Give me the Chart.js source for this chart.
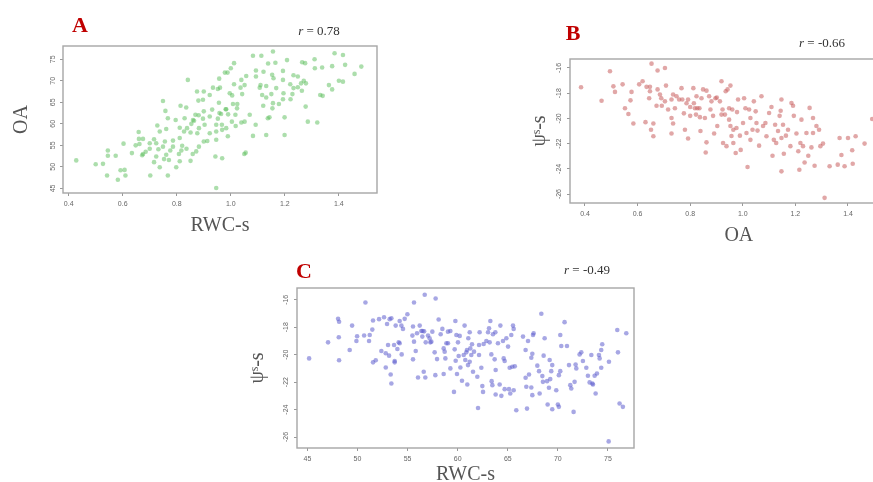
<!DOCTYPE html>
<html>
<head>
<meta charset="utf-8">
<script src="https://cdn.jsdelivr.net/npm/chart.js@4.4.1/dist/chart.umd.min.js"></script>
<style>
  html, body { margin: 0; padding: 0; background: #fff; overflow: hidden; width: 873px; height: 482px; }
  canvas { position: absolute; }
  .tag { position: absolute; font-family: "Liberation Serif", serif; transform: translate(-50%, -50%); white-space: nowrap; }
  .letter { color: #c00000; font-weight: bold; font-size: 22px; }
  .r { color: #333; font-size: 13px; }
</style>
</head>
<body>
<canvas id="chartA" width="380" height="240" style="left:0;top:0"></canvas>
<canvas id="chartB" width="430" height="250" style="left:480px;top:0"></canvas>
<canvas id="chartC" width="400" height="235" style="left:240px;top:255px"></canvas>

<div class="tag letter" style="left:80px;top:25px">A</div>
<div class="tag r" style="left:319px;top:31px"><i>r</i> = 0.78</div>
<div class="tag letter" style="left:573px;top:33px">B</div>
<div class="tag r" style="left:822px;top:43px"><i>r</i> = -0.66</div>
<div class="tag letter" style="left:304px;top:271px">C</div>
<div class="tag r" style="left:587px;top:270px"><i>r</i> = -0.49</div>

<script>
// panel A: RWC-s vs OA
const aRwc = [
  1.156,1.082,1.113,1.384,1.415,1.208,1.31,1.423,1.483,1.264,
  1.275,1.012,1.138,1.165,1.311,1.338,1.375,1.0,1.093,1.121,
  0.978,0.988,1.057,1.093,1.193,1.248,1.232,1.458,0.841,0.957,
  1.039,1.153,1.158,1.193,1.27,1.4,1.415,1.012,1.051,1.11,
  1.131,1.22,1.26,1.278,1.363,0.934,0.952,0.96,1.036,1.107,
  1.168,1.232,1.248,1.263,1.375,0.875,0.9,0.996,1.042,1.116,
  1.15,1.195,1.228,1.331,0.922,1.005,1.131,1.193,1.221,0.88,
  0.897,0.749,0.956,1.008,1.024,1.156,1.178,0.814,0.835,0.931,
  0.983,1.023,1.12,1.154,1.277,0.758,0.958,0.964,0.981,0.9,
  0.99,1.017,1.07,1.137,1.143,1.199,0.922,0.869,0.881,0.952,
  0.767,0.796,0.829,0.86,0.864,0.897,1.004,1.051,1.092,1.285,
  0.728,0.761,0.811,0.838,0.854,0.882,0.903,0.946,0.967,0.983,
  1.018,1.039,0.659,0.737,0.827,0.851,0.876,0.922,0.946,0.968,
  0.989,1.082,1.199,0.66,0.675,0.716,0.756,0.786,0.811,0.9,
  0.913,0.946,0.648,0.7,0.724,0.749,0.786,0.82,0.882,0.7,
  0.732,0.776,0.817,0.836,0.872,0.603,0.662,0.545,0.634,0.675,
  0.685,0.672,0.724,0.761,0.808,0.859,0.428,0.545,0.574,0.5,
  0.527,0.716,0.753,0.771,0.811,0.851,0.943,0.968,1.055,1.05,
  0.737,0.798,0.592,0.607,0.542,0.61,0.702,0.767,0.582,0.946,
  1.131,1.32,1.34
];
const aOa = [
  76.8,75.8,75.8,76.4,76.0,74.8,75.0,73.7,73.3,74.3,
  74.1,74.1,74.0,74.2,72.9,73.1,73.4,72.9,72.4,72.1,
  71.9,71.9,71.1,71.0,72.3,71.0,71.3,71.6,70.2,70.5,
  70.2,71.4,70.6,70.2,70.0,70.0,69.8,69.2,69.0,69.0,
  68.8,69.2,69.4,69.4,69.0,68.4,68.1,68.4,68.4,68.4,
  68.3,68.3,68.5,67.7,68.0,67.5,67.5,67.1,66.9,66.7,
  66.9,67.1,66.9,66.7,66.7,66.6,66.1,65.7,65.7,65.4,
  65.6,65.3,64.9,64.6,64.6,64.8,64.6,64.2,63.8,63.3,
  63.4,63.6,64.2,63.6,64.0,63.0,62.5,62.3,63.4,62.9,
  62.2,62.1,62.1,61.3,61.5,61.5,61.7,62.1,62.0,61.2,
  61.3,60.9,61.3,60.9,60.7,61.2,60.5,60.5,59.8,60.5,
  59.6,58.8,59.1,59.0,60.0,59.0,59.8,59.8,59.8,59.0,
  59.5,60.3,58.1,58.2,58.2,58.0,57.8,57.8,58.2,58.6,
  57.1,57.2,57.4,56.5,56.5,56.4,55.9,56.1,56.7,55.9,
  56.0,56.3,55.0,55.5,55.5,54.7,54.7,54.9,54.7,54.2,
  54.1,53.8,53.8,54.2,53.6,55.4,55.3,53.8,53.2,53.0,
  53.5,52.7,52.4,52.8,53.0,53.0,51.5,52.6,52.6,50.6,
  50.7,51.1,51.8,51.6,51.3,51.4,52.4,52.0,53.3,53.0,
  49.9,49.9,49.2,49.3,48.0,48.0,48.0,48.0,47.0,45.1,
  57.4,60.3,66.5
];

// panel B: OA vs psi-s
const bOa = [
  0.385,0.495,0.463,0.508,0.514,0.543,0.552,0.565,0.577,0.573,
  0.584,0.606,0.619,0.63,0.634,0.647,0.647,0.644,0.653,0.651,
  0.66,0.66,0.672,0.676,0.676,0.685,0.692,0.69,0.704,0.708,
  0.704,0.716,0.729,0.729,0.735,0.729,0.735,0.748,0.742,0.758,
  0.767,0.77,0.776,0.78,0.786,0.792,0.8,0.8,0.792,0.812,
  0.814,0.818,0.822,0.824,0.827,0.835,0.843,0.837,0.839,0.849,
  0.862,0.856,0.862,0.859,0.872,0.881,0.877,0.887,0.891,0.896,
  0.901,0.903,0.913,0.919,0.919,0.923,0.925,0.932,0.935,0.938,
  0.942,0.948,0.948,0.953,0.953,0.957,0.96,0.964,0.964,0.973,
  0.976,0.978,0.982,0.989,0.992,1.001,1.005,1.01,1.014,1.018,
  1.024,1.029,1.029,1.037,1.042,1.049,1.052,1.056,1.062,1.071,
  1.077,1.086,1.09,1.1,1.109,1.113,1.118,1.123,1.127,1.134,
  1.14,1.144,1.147,1.147,1.147,1.153,1.156,1.164,1.172,1.181,
  1.185,1.191,1.194,1.204,1.211,1.215,1.219,1.223,1.229,1.235,
  1.242,1.249,1.254,1.261,1.267,1.267,1.273,1.28,1.29,1.295,
  1.305,1.311,1.33,1.361,1.368,1.375,1.387,1.4,1.416,1.418,
  1.429,1.463,1.492
];
const bPsi = [
  -17.53,-16.26,-18.6,-17.46,-17.9,-17.3,-19.2,-19.65,-17.9,-18.57,
  -20.4,-17.3,-17.06,-20.3,-17.5,-17.5,-17.85,-18.4,-15.66,-20.9,
  -20.4,-21.42,-19.0,-16.2,-17.7,-18.1,-19.0,-18.4,-16.0,-17.4,
  -18.65,-19.3,-18.5,-19.97,-20.4,-21.2,-18.1,-18.25,-19.2,-18.5,
  -17.6,-18.5,-19.6,-20.9,-18.8,-18.5,-19.1,-19.8,-21.6,-17.6,
  -18.8,-19.2,-19.7,-18.25,-19.2,-19.2,-18.4,-19.9,-21.0,-17.7,
  -17.8,-19.97,-21.9,-22.7,-18.25,-18.65,-19.3,-19.8,-21.2,-18.4,
  -18.35,-20.6,-18.65,-17.06,-19.7,-19.3,-21.95,-19.7,-17.85,-22.2,
  -17.7,-19.2,-20.1,-20.6,-17.4,-21.4,-19.3,-20.9,-21.95,-22.75,
  -20.76,-19.5,-18.5,-21.37,-22.5,-20.37,-18.4,-19.2,-21.16,-23.86,
  -19.3,-19.97,-21.7,-20.9,-18.65,-19.44,-20.37,-20.97,-22.16,-18.25,
  -20.6,-20.37,-21.42,-19.57,-19.1,-22.96,-21.7,-20.5,-21.95,-21.0,
  -19.8,-19.4,-18.5,-21.55,-24.2,-20.5,-22.8,-21.37,-20.9,-22.2,
  -18.78,-19.0,-19.8,-21.2,-22.6,-24.07,-21.95,-20.1,-22.2,-23.5,
  -21.16,-22.96,-19.17,-22.3,-21.16,-19.97,-23.75,-20.6,-20.9,-22.2,
  -22.0,-26.3,-23.8,-23.67,-21.55,-22.9,-23.8,-21.55,-22.53,-23.6,
  -21.42,-22.0,-20.05
];

// panel C: RWC-s vs psi-s
const cRwc = [
  45.17,47.06,48.06,48.16,48.13,48.16,49.22,49.46,49.89,49.96,
  50.79,50.66,51.15,51.22,51.48,51.55,51.55,51.82,52.15,52.38,
  52.65,52.82,52.82,52.95,53.05,53.15,53.21,53.38,53.31,53.38,
  53.71,53.71,53.65,53.81,53.98,54.11,54.21,54.21,54.38,54.41,
  54.54,54.71,54.98,55.48,55.54,55.54,55.64,55.64,55.81,55.94,
  56.04,56.21,56.37,56.47,56.61,56.71,56.77,56.5,56.65,56.81,
  57.04,57.2,57.27,57.37,57.47,57.8,57.7,57.77,57.94,58.1,
  58.3,58.47,58.6,58.6,58.7,58.77,58.87,59.03,59.03,59.27,
  59.27,59.63,59.7,59.77,59.8,59.87,59.93,60.03,60.1,60.2,
  60.27,60.43,60.6,60.69,60.76,60.86,60.93,60.96,61.03,61.06,
  61.2,61.2,61.26,61.36,61.43,61.53,61.63,61.96,62.03,62.13,
  62.13,62.19,62.36,62.46,62.53,62.59,62.86,63.03,63.13,63.19,
  63.26,63.36,63.39,63.46,63.52,63.69,63.76,63.79,63.79,64.02,
  64.19,64.26,64.36,64.52,64.59,64.69,64.69,64.86,65.03,65.12,
  65.19,65.25,65.35,65.45,65.52,65.59,65.59,65.7,65.85,66.52,
  66.78,66.78,66.85,66.92,67.02,67.12,67.35,67.45,67.52,67.58,
  67.45,67.35,67.95,68.12,68.18,68.35,68.45,68.51,68.58,68.68,
  68.92,68.98,69.11,69.18,69.24,69.34,69.44,69.44,69.84,70.0,
  70.1,70.1,70.24,70.24,70.34,70.67,70.91,71.11,71.24,71.34,
  71.57,71.67,71.77,71.84,72.17,72.34,72.5,72.84,73.0,73.17,
  73.34,73.44,73.5,73.67,73.77,73.9,74.1,74.17,74.33,74.43,
  74.33,75.1,75.07,75.93,76.0,76.16,76.49,76.83
];
const cPsi = [
  -20.27,-19.1,-17.39,-17.6,-18.73,-20.41,-19.66,-17.88,-19.0,-18.66,
  -16.2,-18.6,-19.0,-18.56,-18.17,-17.51,-20.56,-20.41,-17.41,-19.73,
  -17.27,-19.9,-20.93,-17.76,-19.29,-20.07,-17.41,-17.34,-21.44,-22.1,
  -20.46,-20.56,-19.29,-17.88,-19.59,-19.1,-19.17,-17.54,-17.88,-19.98,
  -18.12,-17.39,-17.05,-18.61,-17.95,-20.34,-19.05,-16.2,-19.73,-18.44,
  -21.66,-17.88,-18.27,-18.68,-21.24,-15.63,-21.66,-18.27,-18.3,-19.1,
  -18.61,-18.8,-19.1,-19.05,-18.32,-15.9,-19.83,-21.49,-20.32,-17.44,
  -18.51,-18.12,-19.54,-21.41,-19.78,-20.27,-19.17,-19.17,-18.32,-18.27,
  -21.0,-22.71,-19.61,-17.54,-20.44,-18.56,-21.41,-19.1,-20.1,-18.63,
  -20.93,-21.9,-20.02,-17.88,-20.39,-19.83,-19.66,-22.17,-20.76,-18.8,
  -18.37,-20.51,-19.54,-20.02,-19.24,-21.24,-19.78,-21.61,-23.88,-20.02,
  -19.29,-18.37,-20.95,-22.29,-22.71,-19.22,-19.0,-18.37,-18.07,-19.1,
  -17.54,-19.98,-21.93,-22.22,-18.51,-20.34,-18.37,-21.12,-22.9,-19.17,
  -22.17,-17.88,-23.0,-19.0,-20.27,-22.51,-20.46,-18.8,-19.41,-22.51,
  -20.95,-22.83,-18.56,-20.88,-17.88,-18.12,-22.59,-20.85,-24.05,-18.68,
  -19.66,-21.68,-22.34,-23.93,-19.0,-21.44,-22.39,-22.95,-18.56,-18.44,
  -19.93,-20.22,-20.8,-21.2,-22.83,-17.02,-21.56,-21.98,-20.07,-18.8,
  -21.93,-23.63,-22.41,-20.39,-21.78,-21.2,-20.76,-23.98,-22.59,-23.63,
  -23.8,-21.49,-21.2,-18.56,-19.37,-17.63,-19.37,-20.76,-22.22,-22.46,
  -24.17,-21.98,-20.71,-21.0,-19.98,-19.83,-20.46,-20.95,-21.54,-22.02,
  -20.02,-22.1,-22.17,-21.54,-22.83,-21.37,-20.02,-20.27,-20.95,-19.24,
  -19.66,-20.51,-26.32,-18.2,-19.83,-23.56,-23.8,-18.44
];

// tick values
const ratioTicks = [0.4, 0.6, 0.8, 1.0, 1.2, 1.4];
const oaTicks = [45, 50, 55, 60, 65, 70, 75];
const psiTicks = [-16, -18, -20, -22, -24, -26];
const rwcTicks = [45, 50, 55, 60, 65, 70, 75];

const psiLabel = "\u03C8\u02E2-s";

// grey frame round the plot area, like R's box()
const boxPlugin = {
  id: "box",
  afterDraw(chart) {
    const a = chart.chartArea;
    const ctx = chart.ctx;
    ctx.save();
    ctx.strokeStyle = "#a6a6a6";
    ctx.lineWidth = 1.4;
    ctx.strokeRect(a.left, a.top, a.right - a.left, a.bottom - a.top);
    ctx.restore();
  }
};

const tickFont = { family: "Liberation Sans", size: 7 };
const titleFont = { family: "Liberation Serif", size: 20 };
const gridOpts = { drawOnChartArea: false, drawTicks: true, tickLength: 3, color: "#999", tickColor: "#999" };

function scatterPanel(id, xs, ys, xTicks, yTicks, o) {
  const pts = xs.map((x, i) => ({ x: x, y: ys[i] }));
  return new Chart(document.getElementById(id), {
    type: "scatter",
    data: {
      datasets: [{
        data: pts,
        backgroundColor: o.color,
        borderWidth: 0,
        pointRadius: 2.3,
        pointHoverRadius: 2.3
      }]
    },
    options: {
      responsive: false,
      animation: false,
      layout: { padding: { top: o.pt, right: o.pr, left: 0, bottom: 0 } },
      plugins: { legend: { display: false }, tooltip: { enabled: false } },
      scales: {
        x: {
          type: "linear",
          min: o.xMin,
          max: o.xMax,
          afterBuildTicks: (s) => { s.ticks = xTicks.map((v) => ({ value: v })); },
          afterFit: (s) => { s.height = o.xh; },
          grid: gridOpts,
          border: { display: false },
          ticks: {
            font: tickFont, color: "#666", padding: 4, maxRotation: 0, autoSkip: false,
            callback: (v) => o.xFmt(v)
          },
          title: { display: true, text: o.xTitle, color: "#555", font: titleFont, padding: { top: 0, bottom: o.xtp } }
        },
        y: {
          type: "linear",
          min: o.yMin,
          max: o.yMax,
          afterBuildTicks: (s) => { s.ticks = yTicks.map((v) => ({ value: v })); },
          afterFit: (s) => { s.width = o.yw; },
          grid: gridOpts,
          border: { display: false },
          ticks: {
            font: tickFont, color: "#666", padding: 3, minRotation: 90, maxRotation: 90,
            crossAlign: "center", autoSkip: false,
            callback: (v) => String(v)
          },
          title: { display: true, text: o.yTitle, color: "#555", font: titleFont, padding: { top: o.ytp, bottom: 0 } }
        }
      }
    },
    plugins: [boxPlugin]
  });
}

scatterPanel("chartA", aRwc, aOa, ratioTicks, oaTicks, {
  xMin: 0.379, xMax: 1.541, yMin: 43.93, yMax: 78.08,
  color: "rgba(90,190,90,0.5)",
  xTitle: "RWC-s", yTitle: "OA", xFmt: (v) => v.toFixed(1),
  pt: 46, pr: 3, yw: 63, xh: 47, ytp: 10, xtp: 2
});

scatterPanel("chartB", bOa, bPsi, ratioTicks, psiTicks, {
  xMin: 0.343, xMax: 1.627, yMin: -26.71, yMax: -15.29,
  color: "rgba(200,95,95,0.55)",
  xTitle: "OA", yTitle: psiLabel, xFmt: (v) => v.toFixed(1),
  pt: 59, pr: 2, yw: 90, xh: 47, ytp: 48, xtp: 2
});

scatterPanel("chartC", cRwc, cPsi, rwcTicks, psiTicks, {
  xMin: 43.96, xMax: 77.6, yMin: -26.8, yMax: -15.14,
  color: "rgba(95,95,205,0.55)",
  xTitle: "RWC-s", yTitle: psiLabel, xFmt: (v) => String(v),
  pt: 33, pr: 6, yw: 57, xh: 42, ytp: 6, xtp: 3
});
</script>
</body>
</html>
